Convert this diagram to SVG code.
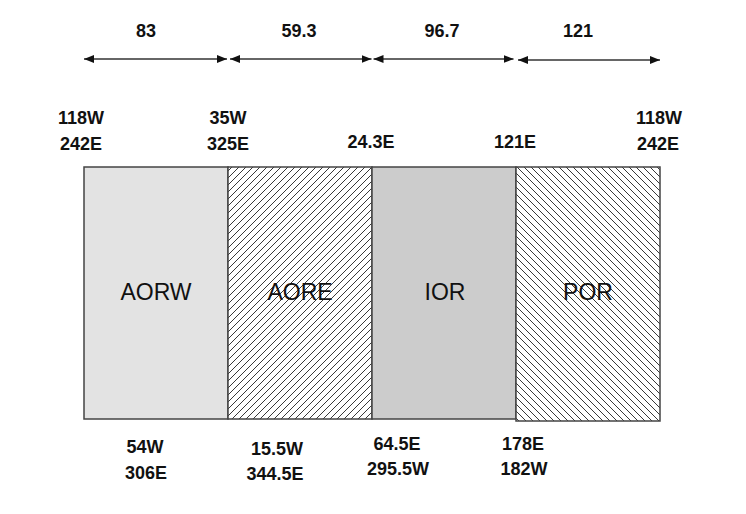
<svg xmlns="http://www.w3.org/2000/svg" width="746" height="514" viewBox="0 0 746 514">
<style>
.b{font-family:"Liberation Sans",Arial,sans-serif;font-weight:bold;font-size:18px;fill:#111;text-anchor:middle}
.n{font-family:"Liberation Sans",Arial,sans-serif;font-size:23px;fill:#111;text-anchor:middle}
.box{stroke:#444;stroke-width:1.5}
.dim{stroke:#333;stroke-width:1.5;fill:none;marker-start:url(#ah);marker-end:url(#ah)}
</style>
<defs>
<marker id="ah" viewBox="0 0 10 8" refX="10" refY="4" markerWidth="10" markerHeight="8" markerUnits="userSpaceOnUse" orient="auto-start-reverse">
<path d="M0,0 L10,4 L0,8 z" fill="#111"/>
</marker>
<pattern id="hf" width="7" height="7" patternUnits="userSpaceOnUse">
<rect width="7" height="7" fill="#fff"/>
<path d="M-1,1 L1,-1 M0,7 L7,0 M6,8 L8,6" stroke="#222" stroke-width="0.9"/>
</pattern>
<pattern id="hb" width="7" height="7" patternUnits="userSpaceOnUse">
<rect width="7" height="7" fill="#fff"/>
<path d="M-1,6 L1,8 M0,0 L7,7 M6,-1 L8,1" stroke="#222" stroke-width="0.9"/>
</pattern>
</defs>
<rect width="746" height="514" fill="#fff"/>
<g id="connectors">
<line class="dim" x1="84" y1="59" x2="227" y2="59"/>
<line class="dim" x1="230" y1="59" x2="371.5" y2="59"/>
<line class="dim" x1="373.5" y1="59" x2="513.5" y2="59"/>
<line class="dim" x1="518" y1="60" x2="660" y2="60"/>
</g>
<g id="dim-labels">
<text class="b" x="146" y="37">83</text>
<text class="b" x="299" y="37">59.3</text>
<text class="b" x="442" y="37">96.7</text>
<text class="b" x="578" y="37">121</text>
</g>
<g id="AORW">
<rect class="box" x="84" y="167" width="144" height="252" fill="#e3e3e3"/>
<text class="n" x="156" y="300">AORW</text>
</g>
<g id="AORE">
<rect class="box" x="228" y="167" width="144" height="252" fill="url(#hf)"/>
<text class="n" x="300" y="300">AORE</text>
</g>
<g id="IOR">
<rect class="box" x="372" y="167" width="144" height="252" fill="#cccccc"/>
<text class="n" x="445" y="300">IOR</text>
</g>
<g id="POR">
<rect class="box" x="516" y="167" width="144" height="254" fill="url(#hb)"/>
<text class="n" x="588" y="300">POR</text>
</g>
<g id="top-labels">
<text class="b" x="81" y="124">118W</text>
<text class="b" x="81" y="150">242E</text>
<text class="b" x="228" y="124">35W</text>
<text class="b" x="228" y="150">325E</text>
<text class="b" x="371" y="148">24.3E</text>
<text class="b" x="515" y="148">121E</text>
<text class="b" x="659" y="124">118W</text>
<text class="b" x="658" y="150">242E</text>
</g>
<g id="bottom-labels">
<text class="b" x="145" y="453">54W</text>
<text class="b" x="146" y="479">306E</text>
<text class="b" x="277" y="455">15.5W</text>
<text class="b" x="275" y="480">344.5E</text>
<text class="b" x="397" y="450">64.5E</text>
<text class="b" x="398" y="475">295.5W</text>
<text class="b" x="523" y="450">178E</text>
<text class="b" x="524" y="475">182W</text>
</g>
</svg>
